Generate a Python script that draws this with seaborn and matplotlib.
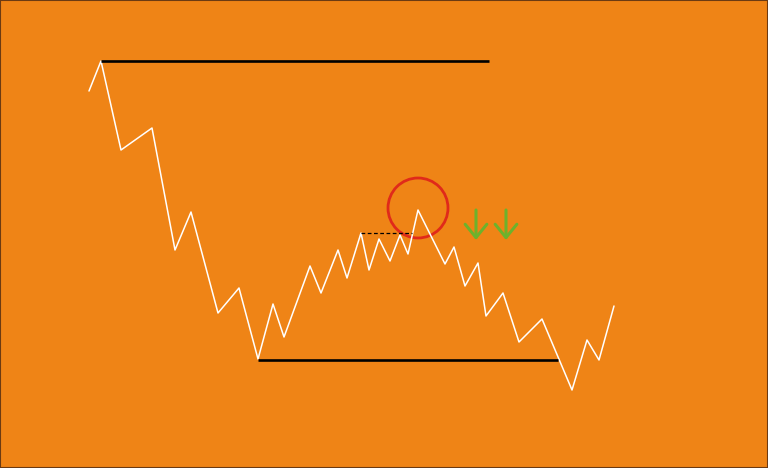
import matplotlib
matplotlib.use("Agg")
import matplotlib.pyplot as plt
import seaborn as sns
import pandas as pd
from matplotlib.patches import Circle, Rectangle

# zigzag price path (pixel-like coordinates, y grows downward)
price_x = [89, 101, 121, 152, 175, 191, 218, 239, 258, 273, 284, 310, 321, 338,
           347, 361, 369, 379, 390, 400, 408, 418, 445, 454, 465, 478, 486, 503,
           519, 542, 572, 587, 599, 614]
price_y = [91, 61, 150, 128, 250, 212, 313, 288, 359, 304, 337, 266, 293, 250,
           278, 233, 270, 239, 261, 235, 254, 210, 264, 247, 286, 263, 316, 293,
           342, 319, 390, 340, 360, 306]

# horizontal levels: (x_start, x_end, y)
resistance = (101, 489, 61)
support = (258, 558, 360)
neckline = (361, 412, 233)

# marker circle (x, y, radius) and arrow positions
circle_spec = (418, 208, 30)
arrow_x = [476, 506]
arrow_top = 210
arrow_bottom = 240

bg = "#EF8416"
sns.set_theme(style="white")
fig = plt.figure(figsize=(7.68, 4.68), dpi=100, facecolor=bg)
ax = fig.add_axes([0, 0, 1, 1])
ax.set_facecolor(bg)

df = pd.DataFrame({"x": price_x, "y": price_y})
sns.lineplot(data=df, x="x", y="y", sort=False, color="white", linewidth=1.1, ax=ax)

ax.plot([resistance[0], resistance[1]], [resistance[2], resistance[2]], color="black", lw=1.9,
        solid_capstyle="butt")
ax.plot([support[0], support[1]], [support[2], support[2]], color="black", lw=1.9,
        solid_capstyle="butt")
ax.plot([neckline[0], neckline[1]], [neckline[2], neckline[2]], color="black", lw=0.9,
        linestyle=(0, (3, 2)))

ax.add_patch(Circle((circle_spec[0], circle_spec[1]), circle_spec[2], fill=False,
                    edgecolor="#E02A1A", lw=2.0))

for xa in arrow_x:
    ax.annotate("", xy=(xa, arrow_bottom), xytext=(xa, arrow_top),
                arrowprops=dict(arrowstyle="->,head_length=0.8,head_width=0.65",
                                color="#6DB22C", lw=2.2, shrinkA=0, shrinkB=0))

ax.add_patch(Rectangle((0, 0), 768, 468, fill=False, edgecolor="#6B3A12", lw=1.5))

ax.set_xlim(0, 768)
ax.set_ylim(468, 0)
ax.set_axis_off()

fig.savefig("out.png", dpi=100, facecolor=bg)
